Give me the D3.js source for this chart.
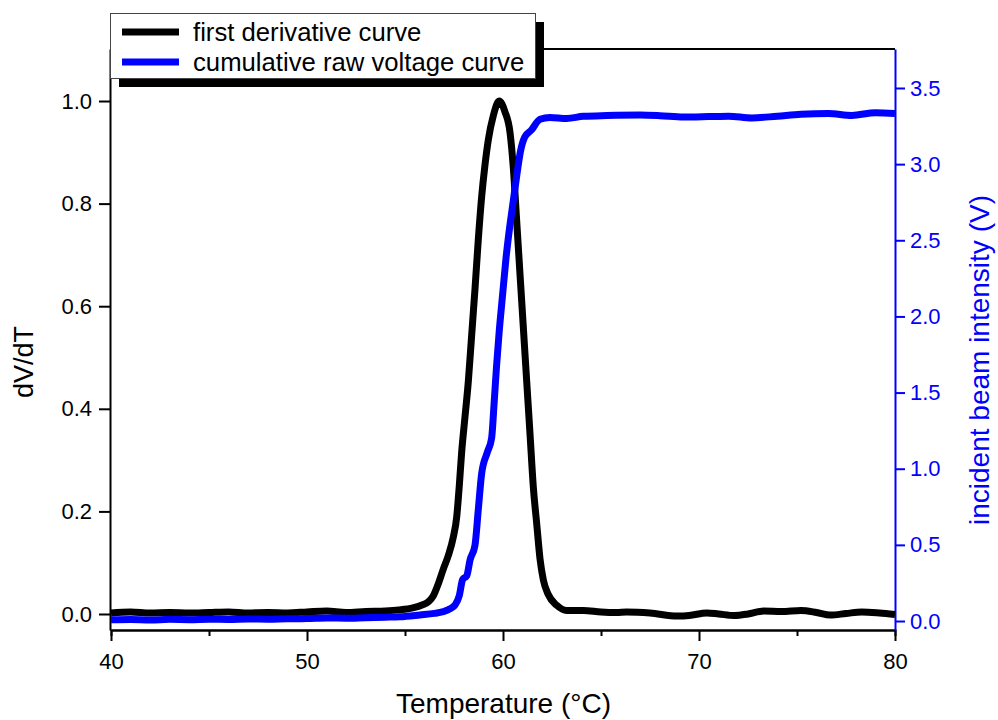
<!DOCTYPE html>
<html>
<head>
<meta charset="utf-8">
<script src="https://cdn.jsdelivr.net/npm/d3@7"></script>
<style>
  body { margin: 0; background: #fff; }
  svg { display: block; font-family: 'Liberation Sans', Arial, sans-serif; }
</style>
</head>
<body>
<div id="viz"></div>
<script>
// Temperatures (°C) and values
const derivTemps = [40, 41, 42, 43, 44, 45, 46, 47, 48, 49, 50, 51, 52, 53, 54, 54.7, 55.4, 55.9, 56.2, 56.44,
  56.7, 56.95, 57.21, 57.46, 57.64, 57.77, 57.89, 58.06, 58.23, 58.4, 58.57, 58.74, 58.91, 59.08, 59.25, 59.51,
  59.8, 60.1, 60.36, 60.53, 60.7, 60.87, 61.04, 61.21, 61.38, 61.55, 61.72, 61.89, 62.06, 62.31, 62.74, 63.25,
  64.1, 65, 65.8, 66.3, 67.5, 68.9, 69.5, 70.4, 71, 71.8, 72.5, 73.3, 74.2, 75.2, 76, 76.7, 77.5, 78.3, 79.2, 80];
const derivValues = [0.002, 0.004, 0.002, 0.003, 0.002, 0.003, 0.004, 0.002, 0.003, 0.002, 0.004, 0.006, 0.003,
  0.005, 0.006, 0.008, 0.012, 0.018, 0.024, 0.035, 0.059, 0.087, 0.114, 0.149, 0.19, 0.25, 0.315, 0.384, 0.453,
  0.543, 0.633, 0.73, 0.813, 0.875, 0.924, 0.972, 1.0, 0.979, 0.938, 0.868, 0.765, 0.661, 0.557, 0.453, 0.35,
  0.246, 0.176, 0.107, 0.066, 0.038, 0.017, 0.007, 0.007, 0.004, 0.003, 0.004, 0.002, -0.004, -0.003, 0.002, 0.0,
  -0.003, 0.0, 0.006, 0.005, 0.007, 0.003, -0.002, 0.001, 0.004, 0.002, -0.001];

const voltTemps = [40, 41, 42, 43, 44, 45, 46, 47, 48, 49, 50, 51, 52, 53, 54, 54.74, 55.76, 56.5, 56.95, 57.3,
  57.55, 57.77, 57.94, 58.15, 58.32, 58.57, 58.74, 58.91, 59.2, 59.42, 59.55, 59.67, 59.81, 59.98, 60.15, 60.32,
  60.52, 60.72, 60.89, 61.11, 61.45, 61.89, 62.39, 63.25, 64.1, 65.3, 67, 68, 69.2, 70.5, 71.5, 72.7, 74, 75.2,
  76.6, 77.8, 79, 80];
const voltValues = [0.008, 0.01, 0.007, 0.011, 0.009, 0.012, 0.01, 0.013, 0.012, 0.015, 0.016, 0.02, 0.018, 0.022,
  0.025, 0.028, 0.04, 0.05, 0.062, 0.08, 0.105, 0.167, 0.273, 0.297, 0.402, 0.497, 0.732, 0.967, 1.108, 1.202,
  1.437, 1.672, 1.907, 2.143, 2.378, 2.566, 2.754, 2.942, 3.083, 3.178, 3.224, 3.295, 3.307, 3.3, 3.314, 3.319,
  3.322, 3.318, 3.309, 3.312, 3.315, 3.303, 3.315, 3.327, 3.332, 3.32, 3.338, 3.333];

const xTicks = [40, 50, 60, 70, 80];
const xMinorTicks = [45, 55, 65, 75];
const yLeftTicks = [0, 0.2, 0.4, 0.6, 0.8, 1.0];
const yRightTicks = [0, 0.5, 1.0, 1.5, 2.0, 2.5, 3.0, 3.5];
const seriesNames = ['first derivative curve', 'cumulative raw voltage curve'];
const seriesColors = ['#000000', '#0000ff'];

const config = {
  width: 785,
  height: 581,
  margin: { top: 49, left: 110 }
}

const svg = d3.select('#viz').append('svg')
  .attr('width', 998)
  .attr('height', 720);
const g = svg.append('g')
  .attr('transform', `translate(${config.margin.left}, ${config.margin.top})`);

// Scales
const xScale = d3.scaleLinear().domain([40, 80]).range([1, config.width]);
const yLeft = d3.scaleLinear().domain([-0.0312, 1.1014]).range([config.height, 0]);
const yRight = d3.scaleLinear().domain([-0.059, 3.756]).range([config.height, 0]);

function styleAxis (sel, color) {
  sel.selectAll('path, line').attr('stroke', color).attr('stroke-width', 2);
  sel.selectAll('text').attr('fill', color).attr('font-size', 22)
    .attr('font-family', "'Liberation Sans', Arial, sans-serif");
}

// top frame line
g.append('line')
  .attr('x1', 0).attr('x2', config.width)
  .attr('y1', 0).attr('y2', 0)
  .attr('stroke', '#000').attr('stroke-width', 2);

// x axis, minor then major
g.append('g')
  .attr('transform', `translate(0, ${config.height})`)
  .call(d3.axisBottom(xScale).tickValues(xMinorTicks).tickSize(6).tickFormat(''))
  .call(sel => styleAxis(sel, '#000'));
g.append('g')
  .attr('transform', `translate(0, ${config.height})`)
  .call(d3.axisBottom(xScale).tickValues(xTicks).tickSize(11).tickPadding(12).tickSizeOuter(0).tickFormat(d3.format('d')))
  .call(sel => styleAxis(sel, '#000'));

// left axis
g.append('g')
  .call(d3.axisLeft(yLeft).tickValues(yLeftTicks).tickSize(11).tickPadding(7).tickSizeOuter(0).tickFormat(d3.format('.1f')))
  .call(sel => styleAxis(sel, '#000'));

// right axis
g.append('g')
  .attr('transform', `translate(${config.width}, 0)`)
  .call(d3.axisRight(yRight).tickValues(yRightTicks).tickSize(10).tickPadding(5).tickSizeOuter(0).tickFormat(d3.format('.1f')))
  .call(sel => styleAxis(sel, '#0000ff'));

// curves
g.append('clipPath').attr('id', 'plotClip')
  .append('rect').attr('width', config.width).attr('height', config.height);

const derivLine = d3.line()
  .x((d, i) => xScale(derivTemps[i]))
  .y(d => yLeft(d))
  .curve(d3.curveMonotoneX);
const voltLine = d3.line()
  .x((d, i) => xScale(voltTemps[i]))
  .y(d => yRight(d))
  .curve(d3.curveMonotoneX);

const curves = g.append('g').attr('clip-path', 'url(#plotClip)');
curves.append('path')
  .attr('d', derivLine(derivValues))
  .attr('fill', 'none')
  .attr('stroke', seriesColors[0])
  .attr('stroke-width', 7)
  .attr('stroke-linejoin', 'round');
curves.append('path')
  .attr('d', voltLine(voltValues))
  .attr('fill', 'none')
  .attr('stroke', seriesColors[1])
  .attr('stroke-width', 7)
  .attr('stroke-linejoin', 'round');

// axis titles
svg.append('text')
  .text('Temperature (°C)')
  .attr('x', config.margin.left + config.width / 2 + 1)
  .attr('y', 713)
  .attr('font-size', 28)
  .attr('text-anchor', 'middle');
svg.append('text')
  .text('dV/dT')
  .attr('transform', 'translate(33, 362) rotate(-90)')
  .attr('font-size', 27)
  .attr('text-anchor', 'middle');
svg.append('text')
  .text('incident beam intensity (V)')
  .attr('transform', 'translate(989, 360) rotate(-90)')
  .attr('font-size', 28)
  .attr('fill', '#0000ff')
  .attr('text-anchor', 'middle');

// legend with drop shadow
const legend = svg.append('g');
legend.append('rect')
  .attr('x', 119).attr('y', 22).attr('width', 425).attr('height', 65)
  .attr('fill', '#000');
legend.append('rect')
  .attr('x', 110.5).attr('y', 13.5).attr('width', 425).attr('height', 65)
  .attr('fill', '#fff').attr('stroke', '#444').attr('stroke-width', 1);
seriesNames.forEach((name, i) => {
  const y = 32 + i * 30;
  legend.append('line')
    .attr('x1', 122).attr('x2', 179).attr('y1', y).attr('y2', y)
    .attr('stroke', seriesColors[i]).attr('stroke-width', 7);
  legend.append('text')
    .text(name)
    .attr('x', 193).attr('y', y + 8.5)
    .attr('font-size', 25.7);
});
</script>
</body>
</html>
